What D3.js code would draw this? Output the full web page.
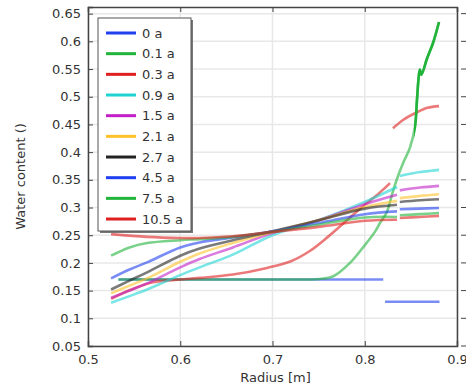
<!DOCTYPE html>
<html>
<head>
<meta charset="utf-8">
<script src="https://cdn.jsdelivr.net/npm/d3@7"></script>
<style>
  html, body { margin: 0; padding: 0; background: #fff; }
  svg { display: block; font-family: "DejaVu Sans", sans-serif; }
</style>
</head>
<body>
<svg id="chart" width="466" height="390"></svg>
<script>
// Legend order / series names
const seriesNames = ["0 a", "0.1 a", "0.3 a", "0.9 a", "1.5 a", "2.1 a", "2.7 a", "4.5 a", "7.5 a", "10.5 a"];
const seriesColors = ["#1f3ff0", "#22b33a", "#e01f1f", "#1fd3d3", "#c21fc8", "#ffc12a", "#222222", "#1f3ff0", "#22b33a", "#e01f1f"];

// Water content profiles, [radius (m), water content] — one list per domain segment
const t0 = [
  [[0.533, 0.17], [0.82, 0.17]],
  [[0.822, 0.13], [0.881, 0.13]]
];
const t01 = [
  [[0.533, 0.17], [0.65, 0.17], [0.72, 0.17], [0.75, 0.171], [0.766, 0.176], [0.784, 0.2], [0.8, 0.232], [0.811, 0.256],
   [0.8165, 0.272], [0.824, 0.292], [0.8295, 0.323], [0.835, 0.352], [0.8415, 0.38], [0.849, 0.408],
   [0.8545, 0.447], [0.8566, 0.494], [0.8585, 0.536], [0.8598, 0.549], [0.8615, 0.54], [0.8675, 0.569],
   [0.874, 0.597], [0.8805, 0.635]]
];
const t03 = [
  [[0.525, 0.135], [0.5455, 0.151], [0.5705, 0.165], [0.6, 0.17], [0.621, 0.173], [0.657, 0.179],
   [0.694, 0.191], [0.72, 0.203], [0.74, 0.221], [0.76, 0.247], [0.78, 0.276], [0.8, 0.305],
   [0.815, 0.325], [0.8274, 0.344]],
  [[0.8306, 0.443], [0.8415, 0.458], [0.8566, 0.472], [0.868, 0.48], [0.8805, 0.483]]
];
const t09 = [
  [[0.525, 0.128], [0.545, 0.140], [0.564, 0.152], [0.6, 0.178], [0.621, 0.192], [0.657, 0.215],
   [0.7, 0.25], [0.75, 0.277], [0.8, 0.31], [0.835, 0.337]],
  [[0.838, 0.357], [0.86, 0.364], [0.8805, 0.368]]
];
const t15 = [
  [[0.525, 0.137], [0.545, 0.150], [0.564, 0.163], [0.6, 0.192], [0.621, 0.207], [0.657, 0.228],
   [0.7, 0.254], [0.75, 0.277], [0.8, 0.306], [0.835, 0.323]],
  [[0.838, 0.331], [0.86, 0.336], [0.8805, 0.339]]
];
const t21 = [
  [[0.525, 0.145], [0.545, 0.159], [0.564, 0.172], [0.6, 0.202], [0.621, 0.217], [0.657, 0.236],
   [0.7, 0.256], [0.75, 0.277], [0.8, 0.301], [0.835, 0.312]],
  [[0.838, 0.317], [0.86, 0.321], [0.8805, 0.324]]
];
const t27 = [
  [[0.525, 0.152], [0.545, 0.168], [0.564, 0.183], [0.6, 0.213], [0.621, 0.226], [0.657, 0.241],
   [0.7, 0.257], [0.75, 0.277], [0.8, 0.298], [0.835, 0.305]],
  [[0.838, 0.31], [0.86, 0.313], [0.8805, 0.315]]
];
const t45 = [
  [[0.525, 0.172], [0.545, 0.188], [0.564, 0.201], [0.6, 0.228], [0.621, 0.237], [0.657, 0.246],
   [0.7, 0.257], [0.75, 0.272], [0.8, 0.288], [0.835, 0.293]],
  [[0.838, 0.297], [0.86, 0.298], [0.8805, 0.299]]
];
const t75 = [
  [[0.525, 0.213], [0.545, 0.228], [0.564, 0.236], [0.6, 0.241], [0.621, 0.243], [0.657, 0.247],
   [0.7, 0.256], [0.75, 0.269], [0.8, 0.282], [0.835, 0.283]],
  [[0.838, 0.286], [0.86, 0.288], [0.8805, 0.29]]
];
const t105 = [
  [[0.525, 0.252], [0.564, 0.247], [0.6, 0.245], [0.621, 0.245], [0.657, 0.248], [0.7, 0.256],
   [0.75, 0.265], [0.8, 0.276], [0.835, 0.278]],
  [[0.838, 0.281], [0.86, 0.283], [0.8805, 0.285]]
];
const seriesValues = [t0, t01, t03, t09, t15, t21, t27, t45, t75, t105];

const xTicks = [0.5, 0.6, 0.7, 0.8, 0.9];
const yTicks = [0.05, 0.1, 0.15, 0.2, 0.25, 0.3, 0.35, 0.4, 0.45, 0.5, 0.55, 0.6, 0.65];

(function draw() {
  const svg = d3.select("#chart");
  const pL = 88, pR = 457, pT = 7, pB = 346;

  const x = d3.scaleLinear().domain([0.5, 0.9]).range([pL, pR]);
  const y = d3.scaleLinear().domain([0.05, 0.662]).range([pB, pT]);

  // grid
  const grid = svg.append("g").attr("stroke", "#e8e8e8").attr("stroke-width", 1.5);
  xTicks.forEach(t => grid.append("line").attr("x1", x(t)).attr("x2", x(t)).attr("y1", pT).attr("y2", pB));
  yTicks.forEach(t => grid.append("line").attr("x1", pL).attr("x2", pR).attr("y1", y(t)).attr("y2", y(t)));

  // curves
  const line = d3.line().x(d => x(d[0])).y(d => y(d[1])).curve(d3.curveCatmullRom.alpha(0.5));
  const plot = svg.append("g");
  seriesValues.forEach((segs, i) => {
    segs.forEach(seg => {
      plot.append("path").attr("d", line(seg)).attr("fill", "none")
        .attr("stroke", seriesColors[i]).attr("stroke-width", 2.6)
        .attr("stroke-opacity", 0.6).attr("stroke-linecap", "butt");
    });
  });
  // the steep wetting front near the outer radius is drawn solid
  svg.append("clipPath").attr("id", "outer").append("rect")
    .attr("x", x(0.8535)).attr("y", pT).attr("width", pR - x(0.8535)).attr("height", pB - pT);
  plot.append("path").attr("d", line(t01[0])).attr("fill", "none")
    .attr("stroke", seriesColors[1]).attr("stroke-width", 2.6).attr("clip-path", "url(#outer)");

  // axes
  const axisColor = "#444";
  const xAxisB = d3.axisBottom(x).tickValues(xTicks).tickFormat(d3.format("")).tickSize(-5).tickPadding(9);
  const xAxisT = d3.axisTop(x).tickValues(xTicks).tickFormat("").tickSize(-5);
  const yAxisL = d3.axisLeft(y).tickValues(yTicks).tickFormat(d3.format("")).tickSize(-5).tickPadding(7);
  const yAxisR = d3.axisRight(y).tickValues(yTicks).tickFormat("").tickSize(0);

  function styleAxis(g) {
    g.select(".domain").attr("stroke", axisColor).attr("stroke-width", 1.5);
    g.selectAll(".tick line").attr("stroke", axisColor).attr("stroke-width", 1);
    g.selectAll(".tick text").attr("fill", "#333").style("font-size", "13px").style("font-family", "DejaVu Sans, sans-serif");
  }
  svg.append("g").attr("transform", `translate(0,${pB})`).call(xAxisB).call(styleAxis);
  svg.append("g").attr("transform", `translate(0,${pT})`).call(xAxisT).call(styleAxis);
  svg.append("g").attr("transform", `translate(${pL},0)`).call(yAxisL).call(styleAxis);
  svg.append("g").attr("transform", `translate(${pR},0)`).call(yAxisR).call(styleAxis);
  // small outer ticks on the right edge
  const rt = svg.append("g").attr("stroke", axisColor).attr("stroke-width", 1);
  yTicks.forEach(t => rt.append("line").attr("x1", 461).attr("x2", 466).attr("y1", y(t)).attr("y2", y(t)));

  // axis titles
  svg.append("text").attr("x", (pL + pR) / 2 + 3).attr("y", 382).attr("text-anchor", "middle")
    .attr("fill", "#333").style("font-size", "13px").text("Radius [m]");
  svg.append("text").attr("transform", `translate(25,${(pT + pB) / 2}) rotate(-90)`)
    .attr("text-anchor", "middle").attr("fill", "#333").style("font-size", "13px").text("Water content ()");

  // legend
  const lg = svg.append("g");
  const lx = 98, ly = 18, lw = 93, lh = 213;
  lg.append("rect").attr("x", lx + 2).attr("y", ly + 2).attr("width", lw).attr("height", lh).attr("fill", "#777");
  lg.append("rect").attr("x", lx).attr("y", ly).attr("width", lw).attr("height", lh)
    .attr("fill", "#fff").attr("stroke", "#555").attr("stroke-width", 1);
  seriesNames.forEach((name, i) => {
    const cy = 33 + i * 20.67;
    lg.append("line").attr("x1", 106).attr("x2", 136).attr("y1", cy).attr("y2", cy)
      .attr("stroke", seriesColors[i]).attr("stroke-width", 3);
    lg.append("text").attr("x", 142).attr("y", cy + 4.5).attr("fill", "#333")
      .style("font-size", "13px").text(name);
  });
})();
</script>
</body>
</html>
